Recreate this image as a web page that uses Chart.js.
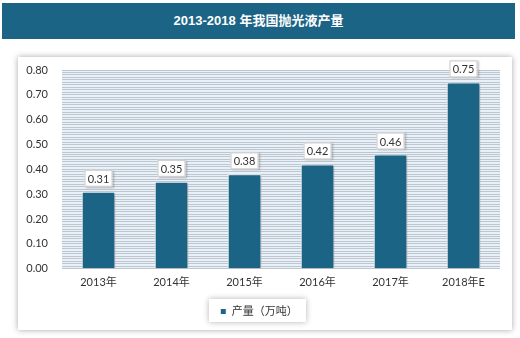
<!DOCTYPE html>
<html>
<head>
<meta charset="utf-8">
<script src="https://cdn.jsdelivr.net/npm/chart.js@4"></script>
<style>
    body { margin: 0; background: #fff; width: 520px; height: 338px; position: relative; overflow: hidden; font-family: Lato, "Noto Sans CJK SC", sans-serif; }
    #banner { position: absolute; left: 2px; top: 3px; width: 513px; height: 36px; background: #1b6486; color: #fff; font: bold 13px "Liberation Sans", "Noto Sans CJK SC", sans-serif; text-align: center; line-height: 36px; }
    #panel { position: absolute; left: 18px; top: 57px; width: 494px; height: 273px; background: #fff; box-shadow: 0 0 6px rgba(0,0,0,0.35); }
</style>
</head>
<body>
<div id="banner">2013-2018 年我国抛光液产量</div>
<div id="panel"><canvas id="chart" width="494" height="273"></canvas></div>
<script>
const years = ['2013年', '2014年', '2015年', '2016年', '2017年', '2018年E'];
const output = [0.31, 0.35, 0.38, 0.42, 0.46, 0.75];
const seriesName = '产量（万吨）';
const barColor = '#1b6486';

const fontFamily = 'Lato, "Noto Sans CJK SC", sans-serif';

// Light blue fill behind the striped grid
const areaBg = {
    id: 'areaBg',
    beforeDraw(chart) {
        const {ctx, chartArea: a} = chart;
        ctx.save();
        ctx.fillStyle = '#e8f1fa';
        ctx.fillRect(a.left, a.top, a.right - a.left, a.bottom - a.top);
        ctx.restore();
    }
};

// Drop shadow under bars
const barShadow = {
    id: 'barShadow',
    beforeDatasetsDraw(chart) {
        const ctx = chart.ctx;
        ctx.save();
        ctx.shadowColor = 'rgba(0,0,0,0.35)';
        ctx.shadowBlur = 3;
        ctx.shadowOffsetX = 2;
        ctx.shadowOffsetY = 1;
    },
    afterDatasetsDraw(chart) {
        chart.ctx.restore();
    }
};

// Value boxes above bars
const valueBoxes = {
    id: 'valueBoxes',
    afterDatasetsDraw(chart) {
        const ctx = chart.ctx;
        const meta = chart.getDatasetMeta(0);
        ctx.save();
        ctx.font = '11px ' + fontFamily;
        ctx.textAlign = 'center';
        ctx.textBaseline = 'middle';
        meta.data.forEach((bar, i) => {
            const txt = output[i].toFixed(2);
            const w = 28, h = 17;
            const x = bar.x - w / 2, y = bar.y - 5 - h;
            ctx.shadowColor = 'rgba(0,0,0,0.25)';
            ctx.shadowBlur = 2;
            ctx.shadowOffsetX = 1;
            ctx.shadowOffsetY = 1;
            ctx.fillStyle = '#fff';
            ctx.fillRect(x, y, w, h);
            ctx.shadowColor = 'transparent';
            ctx.strokeStyle = '#c8c8c8';
            ctx.lineWidth = 1;
            ctx.strokeRect(x + 0.5, y + 0.5, w - 1, h - 1);
            ctx.fillStyle = '#333';
            ctx.fillText(txt, bar.x, y + h / 2 + 1);
        });
        ctx.restore();
    }
};

// White box with shadow behind the legend
const legendBox = {
    id: 'legendBox',
    beforeDraw(chart) {
        const lg = chart.legend;
        if (!lg) return;
        const ctx = chart.ctx;
        const cx = (lg.left + lg.right) / 2;
        const x = cx - 50, y = lg.top + 3, w = 97, h = 23;
        ctx.save();
        ctx.shadowColor = 'rgba(0,0,0,0.3)';
        ctx.shadowBlur = 6;
        ctx.fillStyle = '#fff';
        ctx.fillRect(x, y, w, h);
        ctx.restore();
    }
};

new Chart(document.getElementById('chart'), {
    type: 'bar',
    data: {
        labels: years,
        datasets: [{
            label: seriesName,
            data: output,
            backgroundColor: barColor,
            borderColor: '#ffffff',
            borderWidth: 1,
            barPercentage: 0.46,
            categoryPercentage: 1
        }]
    },
    options: {
        responsive: false,
        animation: false,
        layout: { padding: { top: 13, right: 12, left: 0, bottom: 3 } },
        scales: {
            x: {
                grid: { display: false, drawTicks: false },
                border: { display: false },
                ticks: { color: '#333', font: { size: 11, family: fontFamily }, padding: 7 }
            },
            y: {
                min: 0,
                max: 0.8,
                afterFit(scale) {
                    scale.width = 44;
                    scale.paddingTop = 0;
                },
                grid: { color: '#bfc7ce', lineWidth: 1, drawTicks: false },
                border: { display: false },
                ticks: {
                    stepSize: 0.01,
                    autoSkip: false,
                    padding: 14,
                    color: '#333',
                    font: { size: 11, family: fontFamily },
                    callback: v => (Math.round(v * 100) % 10 === 0 ? v.toFixed(2) : '')
                }
            }
        },
        plugins: {
            legend: {
                position: 'bottom',
                labels: {
                    boxWidth: 6,
                    boxHeight: 6,
                    color: '#333',
                    padding: 10,
                    font: { size: 11, family: fontFamily }
                }
            },
            tooltip: { enabled: false }
        }
    },
    plugins: [areaBg, barShadow, valueBoxes, legendBox]
});
</script>
</body>
</html>
